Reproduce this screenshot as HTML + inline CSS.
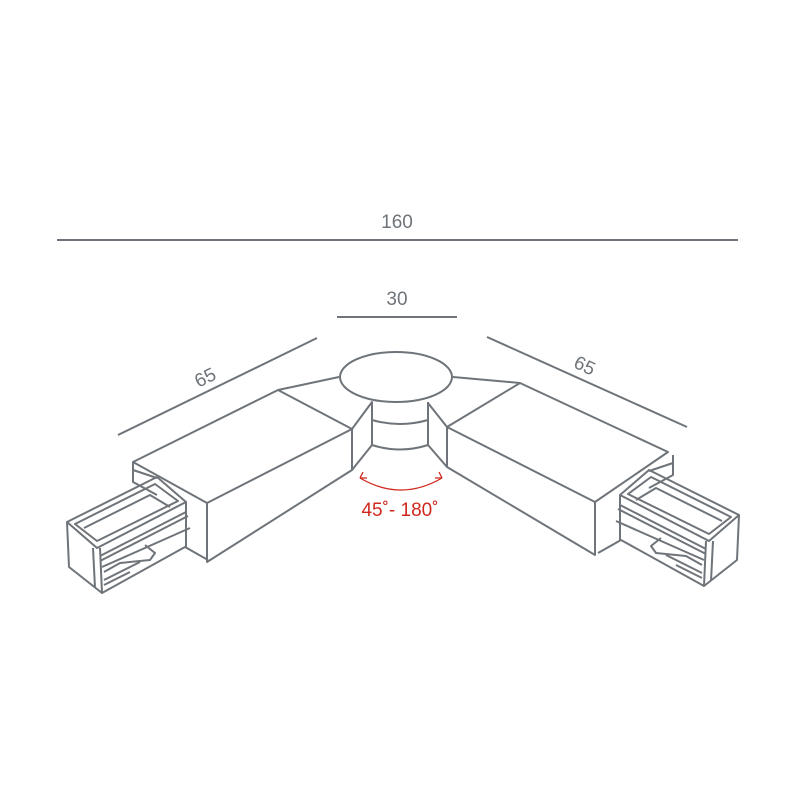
<!DOCTYPE html>
<html><head><style>body{margin:0;background:#fff}svg{display:block}</style></head><body>
<svg width="800" height="800" viewBox="0 0 800 800" xmlns="http://www.w3.org/2000/svg">
<defs>
<g id="conn">
<polyline points="133,462 133,482 157,495"/>
<polyline points="133,470 157,478"/>
<polygon points="67,522 157,477 186,502 97,548"/>
<polygon points="75,524 155,484 178,501 97,541"/>
<polyline points="84,528 150,495 170,507"/>
<polyline points="67,522 69,567 102,593 100,548"/>
<line x1="93" y1="548" x2="95" y2="588"/>
<polyline points="102,593 185,547 208,560"/>
<polyline points="186,502 186,547"/>
<line x1="100" y1="556" x2="186" y2="512"/>
<line x1="100" y1="561" x2="188" y2="516"/>
<line x1="102" y1="567" x2="190" y2="528"/>
<polyline points="104,572 120,563 150,560 155,553 145,545"/>
<line x1="104" y1="580" x2="140" y2="562"/>
<line x1="104" y1="585" x2="130" y2="572"/>
</g>
</defs>
<g stroke="#6e7479" stroke-width="2" fill="none" stroke-linejoin="round">
<line x1="57" y1="240" x2="738" y2="240"/>
<line x1="337" y1="317" x2="457" y2="317"/>
<line x1="118" y1="435" x2="317" y2="338"/>
<line x1="487" y1="337" x2="687" y2="427"/>
<polygon points="133,462 278,390 352,429 207,503"/>
<polyline points="207,503 207,562 352,470 352,429"/>
<polyline points="278,390 339,377"/>
<polyline points="352,429 372,402 372,445 352,470"/>
<ellipse cx="396" cy="377" rx="56" ry="25" fill="#fff"/>
<path d="M372,420 Q400,428 428,420"/>
<path d="M372,445 Q400,454 428,445"/>
<line x1="428" y1="402" x2="428" y2="445"/>
<polyline points="453,377 520,383"/>
<polyline points="428,403 447,427 447,467 428,445"/>
<polygon points="447,427 520,383 668,452 595,502"/>
<polyline points="447,467 595,555 595,502"/>
<use href="#conn"/>
<use href="#conn" transform="translate(806,-7) scale(-1,1)"/>
</g>
<path d="M360,478 Q401,502 442,478" stroke="#d0281e" stroke-width="1.3" fill="none"/>
<path d="M360,478 l7,0 M360,478 l3,-6 M442,478 l-7,0 M442,478 l-3,-6" stroke="#d0281e" stroke-width="1.3" fill="none"/>
<g font-family="Liberation Sans, sans-serif" fill="#6e7479" font-size="19" text-anchor="middle">
<text x="397" y="228">160</text>
<text x="397" y="305">30</text>
<text x="205" y="384" transform="rotate(-26 205 377)">65</text>
<text x="585" y="372" transform="rotate(25 585 365)">65</text>
</g>
<text x="400" y="516" font-family="Liberation Sans, sans-serif" font-size="19" fill="#d0281e" text-anchor="middle">45˚- 180˚</text>
</svg>
</body></html>
